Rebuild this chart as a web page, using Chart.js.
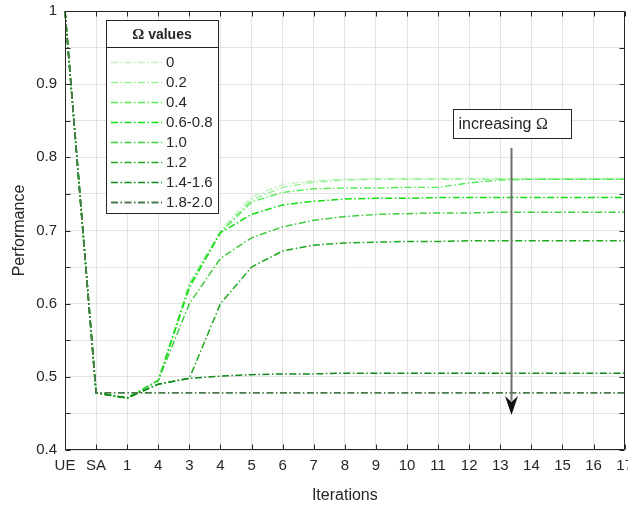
<!DOCTYPE html>
<html>
<head>
<meta charset="utf-8">
<script src="https://cdn.jsdelivr.net/npm/chart.js@4.4.1/dist/chart.umd.min.js"></script>
<style>
  html, body { margin: 0; padding: 0; overflow: hidden; background: #fff; }
  #wrap { width: 640px; height: 506px; }
</style>
</head>
<body>
<div id="wrap"><canvas id="perf-chart" width="640" height="506"></canvas></div>
<script>
// x categories (as printed under the axis)
const iterations = ["UE", "SA", "1", "4", "3", "4", "5", "6", "7", "8", "9", "10", "11", "12", "13", "14", "15", "16", "17"];

// legend labels
const omegaLabels = ["0", "0.2", "0.4", "0.6-0.8", "1.0", "1.2", "1.4-1.6", "1.8-2.0"];

// performance per omega value
const omega00 = [1, 0.478, 0.471, 0.495, 0.628, 0.700, 0.746, 0.763, 0.768, 0.770, 0.771, 0.771, 0.771, 0.771, 0.771, 0.771, 0.771, 0.771, 0.771];
const omega02 = [1, 0.478, 0.471, 0.495, 0.627, 0.698, 0.742, 0.759, 0.766, 0.769, 0.770, 0.770, 0.770, 0.770, 0.770, 0.770, 0.770, 0.770, 0.770];
const omega04 = [1, 0.478, 0.471, 0.495, 0.625, 0.697, 0.739, 0.752, 0.757, 0.758, 0.758, 0.759, 0.759, 0.765, 0.769, 0.770, 0.770, 0.770, 0.770];
const omega06 = [1, 0.478, 0.471, 0.495, 0.622, 0.697, 0.722, 0.735, 0.740, 0.743, 0.744, 0.744, 0.745, 0.745, 0.745, 0.745, 0.745, 0.745, 0.745];
const omega10 = [1, 0.478, 0.471, 0.495, 0.600, 0.662, 0.690, 0.705, 0.714, 0.719, 0.722, 0.723, 0.724, 0.724, 0.725, 0.725, 0.725, 0.725, 0.725];
const omega12 = [1, 0.478, 0.471, 0.490, 0.498, 0.600, 0.650, 0.672, 0.680, 0.683, 0.684, 0.685, 0.685, 0.686, 0.686, 0.686, 0.686, 0.686, 0.686];
const omega14 = [1, 0.478, 0.471, 0.490, 0.498, 0.501, 0.503, 0.504, 0.504, 0.505, 0.505, 0.505, 0.505, 0.505, 0.505, 0.505, 0.505, 0.505, 0.505];
const omega18 = [1, 0.478, 0.478, 0.478, 0.478, 0.478, 0.478, 0.478, 0.478, 0.478, 0.478, 0.478, 0.478, 0.478, 0.478, 0.478, 0.478, 0.478, 0.478];

const omegaSeries = [omega00, omega02, omega04, omega06, omega10, omega12, omega14, omega18];

// y axis range / ticks
const yMin = 0.4;
const yMax = 1.0;
const yStep = 0.05;

// "increasing Omega" arrow, in data units (category index, performance)
const arrowX = 14.33;
const arrowTop = 0.813;
const arrowTip = 0.448;

document.addEventListener("DOMContentLoaded", () => {
    const ctx = document.getElementById("perf-chart").getContext("2d");

    const lineColors = ["#bff2bf", "#98f098", "#55ea55", "#14dc14", "#3fca3f", "#1ea61e", "#11861a", "#4a7a4a"];
    const lineWidths = [1.4, 1.4, 1.4, 1.5, 1.5, 1.5, 1.5, 1.8];
    const dash = [7, 2.5, 1.5, 2.5];
    const sans = "'Liberation Sans', Arial, Helvetica, sans-serif";
    const serif = "'Liberation Serif', 'Times New Roman', serif";
    const textColor = "#262626";

    const datasets = omegaSeries.map((values, i) => ({
        label: omegaLabels[i],
        data: values,
        borderColor: lineColors[i],
        borderWidth: lineWidths[i],
        borderDash: dash,
        pointRadius: 0,
        tension: 0,
        fill: false,
        order: omegaSeries.length - i,
    }));

    // box around the axes + inward tick marks
    const framePlugin = {
        id: "frame",
        afterDraw(chart) {
            const { ctx, chartArea: a, scales: { x, y } } = chart;
            const L = Math.round(a.left) + 0.5, R = Math.round(a.right) - 0.5;
            const T = Math.round(a.top) + 0.5, B = Math.round(a.bottom) - 0.5;
            ctx.save();
            ctx.strokeStyle = textColor;
            ctx.lineWidth = 1;
            ctx.beginPath();
            x.ticks.forEach((t, i) => {
                const px = Math.round(x.getPixelForTick(i)) + 0.5;
                ctx.moveTo(px, B); ctx.lineTo(px, B - 5);
                ctx.moveTo(px, T); ctx.lineTo(px, T + 5);
            });
            y.ticks.forEach((t, i) => {
                const py = Math.round(y.getPixelForTick(i)) + 0.5;
                ctx.moveTo(L, py); ctx.lineTo(L + 5, py);
                ctx.moveTo(R, py); ctx.lineTo(R - 5, py);
            });
            ctx.rect(L, T, R - L, B - T);
            ctx.stroke();
            ctx.restore();
        },
    };

    // MATLAB style legend box with a title row
    const legendPlugin = {
        id: "omegaLegend",
        afterDraw(chart) {
            const { ctx, chartArea: a } = chart;
            const left = a.left + 41, top = a.top + 9, w = 112, h = 193;
            ctx.save();
            ctx.fillStyle = "#fff";
            ctx.fillRect(left, top, w, h);
            ctx.strokeStyle = textColor;
            ctx.lineWidth = 1;
            ctx.strokeRect(left + 0.5, top + 0.5, w, h);
            ctx.beginPath();
            ctx.moveTo(left, top + 27.5);
            ctx.lineTo(left + w, top + 27.5);
            ctx.stroke();

            // title: serif omega + bold sans text
            ctx.fillStyle = textColor;
            ctx.textBaseline = "middle";
            ctx.font = "bold 15px " + serif;
            const omW = ctx.measureText("Ω").width;
            ctx.font = "bold 14px " + sans;
            const restW = ctx.measureText(" values").width;
            let tx = left + w / 2 - (omW + restW) / 2;
            ctx.font = "bold 15px " + serif;
            ctx.fillText("Ω", tx, top + 15);
            ctx.font = "bold 14px " + sans;
            ctx.fillText(" values", tx + omW, top + 15);

            ctx.font = "15px " + sans;
            chart.data.datasets.forEach((ds, i) => {
                const cy = top + 41.5 + i * 20.1;
                ctx.strokeStyle = ds.borderColor;
                ctx.lineWidth = ds.borderWidth;
                ctx.setLineDash(ds.borderDash);
                ctx.beginPath();
                ctx.moveTo(left + 5, Math.round(cy) + 0.5);
                ctx.lineTo(left + 56, Math.round(cy) + 0.5);
                ctx.stroke();
                ctx.setLineDash([]);
                ctx.fillStyle = textColor;
                ctx.fillText(ds.label, left + 60, cy + 1);
            });
            ctx.restore();
        },
    };

    // text box and arrow
    const arrowPlugin = {
        id: "increasingOmega",
        afterDraw(chart) {
            const { ctx, scales: { x, y } } = chart;
            const ax = Math.round(x.getPixelForValue(arrowX)) + 0.5;
            const y0 = y.getPixelForValue(arrowTop);
            const y1 = y.getPixelForValue(arrowTip);
            ctx.save();
            ctx.strokeStyle = "#6e6e6e";
            ctx.lineWidth = 2;
            ctx.beginPath();
            ctx.moveTo(ax, y0);
            ctx.lineTo(ax, y1 - 14);
            ctx.stroke();
            ctx.fillStyle = "#111";
            ctx.beginPath();
            ctx.moveTo(ax, y1);
            ctx.lineTo(ax - 6.5, y1 - 19);
            ctx.lineTo(ax, y1 - 13);
            ctx.lineTo(ax + 6.5, y1 - 19);
            ctx.closePath();
            ctx.fill();

            // label box above the arrow
            const bx = ax - 59, by = y0 - 39, bw = 118, bh = 29;
            ctx.fillStyle = "#fff";
            ctx.fillRect(bx, by, bw, bh);
            ctx.strokeStyle = textColor;
            ctx.lineWidth = 1;
            ctx.strokeRect(Math.round(bx) + 0.5, Math.round(by) + 0.5, bw, bh);
            ctx.fillStyle = textColor;
            ctx.textBaseline = "middle";
            ctx.font = "16px " + sans;
            ctx.fillText("increasing ", bx + 6, by + bh / 2 + 1);
            const tw = ctx.measureText("increasing ").width;
            ctx.font = "16px " + serif;
            ctx.fillText("Ω", bx + 6 + tw, by + bh / 2 + 1);
            ctx.restore();
        },
    };

    new Chart(ctx, {
        type: "line",
        data: { labels: iterations, datasets: datasets },
        options: {
            responsive: false,
            animation: false,
            layout: { padding: { top: 11, right: 14, bottom: 0, left: 0 } },
            scales: {
                x: {
                    type: "category",
                    offset: false,
                    grid: { color: "#e3e3e3", lineWidth: 1, drawTicks: false },
                    border: { display: false },
                    ticks: {
                        color: textColor,
                        font: { family: sans, size: 15 },
                        padding: 7,
                        maxRotation: 0,
                        autoSkip: false,
                    },
                    title: {
                        display: true,
                        text: "Iterations",
                        color: textColor,
                        font: { family: sans, size: 16 },
                        padding: { top: 4, bottom: 1 },
                    },
                    afterFit(scale) { scale.height = 56; },
                },
                y: {
                    min: yMin,
                    max: yMax,
                    // invisible outer ticks give the label gap without extra top padding
                    grid: { color: "#e3e3e3", lineWidth: 1, drawTicks: true, tickLength: 8, tickColor: "rgba(0,0,0,0)" },
                    border: { display: false },
                    ticks: {
                        stepSize: yStep,
                        color: textColor,
                        font: { family: sans, size: 15 },
                        padding: 0,
                        callback: (v) => {
                            const t = Math.round(v * 10);
                            return Math.abs(v * 10 - t) < 1e-6 ? String(t / 10) : "";
                        },
                    },
                    title: {
                        display: true,
                        text: "Performance",
                        color: textColor,
                        font: { family: sans, size: 16 },
                        padding: { top: 10, bottom: 0 },
                    },
                    afterFit(scale) { scale.width = 65; },
                },
            },
            plugins: {
                legend: { display: false },
                tooltip: { enabled: false },
            },
        },
        plugins: [framePlugin, legendPlugin, arrowPlugin],
    });
});
</script>
</body>
</html>
